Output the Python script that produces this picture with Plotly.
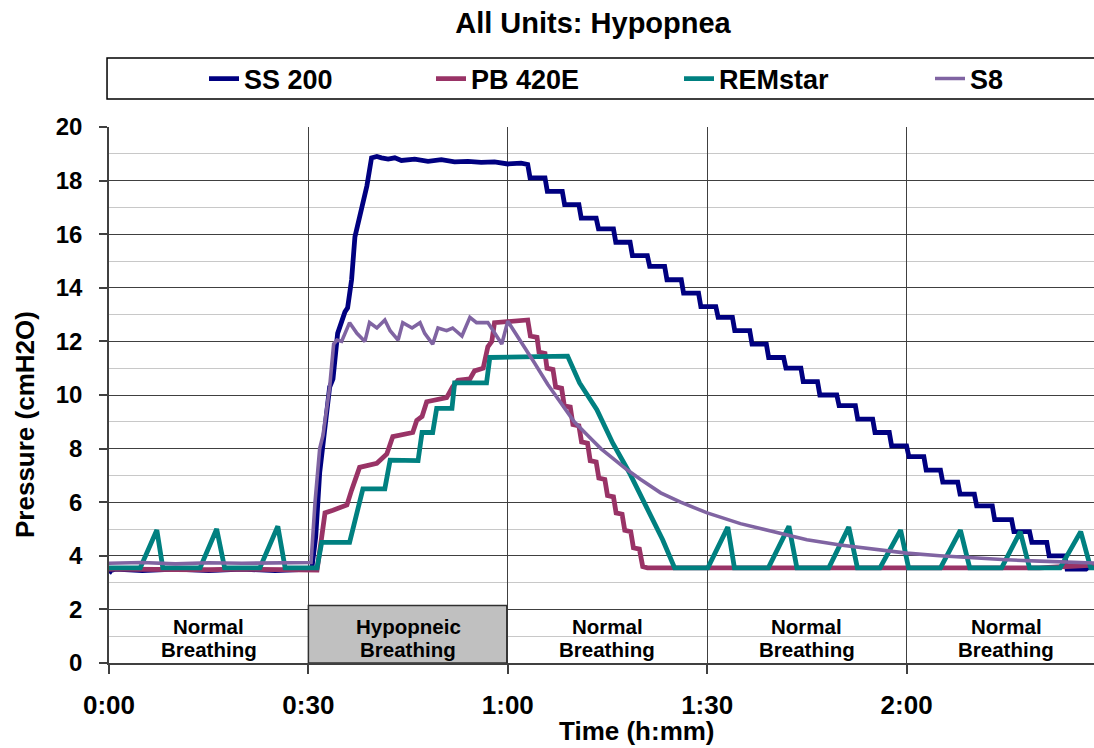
import plotly.graph_objects as go

FONT = "Arial, 'Liberation Sans', sans-serif"

# ---------------- data (time in minutes, pressure in cmH2O) ----------------
# SS 200
ss_t = [0, 0.3, 1, 5, 10, 15, 20, 25, 30.4,
        30.5, 31.1, 31.7, 33.2, 33.7, 34.4, 35.5, 35.9, 36.5, 37.0, 38.0, 38.8, 39.5, 40.3,
        41, 42, 43, 44, 46, 48, 50, 52, 54, 56, 58, 60, 62, 63.0]
ss_p = [3.35, 3.45, 3.5, 3.45, 3.5, 3.45, 3.5, 3.45, 3.5,
        3.5, 4.7, 7.1, 10.3, 10.6, 12.3, 13.1, 13.25, 14.3, 15.9, 16.9, 17.8, 18.85, 18.9,
        18.85, 18.8, 18.85, 18.75, 18.8, 18.72, 18.78, 18.7, 18.72, 18.68, 18.7, 18.62, 18.65, 18.6]
# SS 200 staircase descent: times of each drop and the level after it
ss_drop_t = [63.0, 65.6, 68.2, 70.7, 73.3, 75.9, 78.4, 81.0, 83.6, 86.1, 88.7, 91.3,
             93.8, 96.4, 98.9, 101.5, 104.1, 106.6, 109.5, 112.3, 114.9, 117.4, 120.0,
             122.6, 125.1, 127.7, 130.2, 132.9, 135.8, 138.5, 141.1, 143.8]
ss_drop_p = [18.1, 17.6, 17.1, 16.6, 16.2, 15.7, 15.2, 14.8, 14.3, 13.8, 13.3, 12.9,
             12.4, 11.9, 11.4, 11.0, 10.5, 10.0, 9.6, 9.1, 8.6, 8.1, 7.7,
             7.2, 6.75, 6.3, 5.86, 5.35, 4.9, 4.5, 4.0, 3.5]
ss_tail_t = [147.0, 147.5, 148.2]
ss_tail_p = [3.5, 3.6, 3.6]

# PB 420E
pb_t = [0, 5, 10, 15, 20, 25, 30.5, 31.3, 32.0, 32.5, 33.7, 35.2, 35.8, 36.5, 37.4, 37.7,
        40.3, 41.2, 41.8, 42.7, 45.3, 45.7, 46.3, 47.1, 47.8, 50.8, 51.7, 52.5, 54.3, 55.0,
        56.3, 57.0, 57.6, 58.0, 63.0,
        63.4, 64.4, 64.7, 65.6, 65.9, 66.8, 67.2, 68.1, 68.5, 69.4, 69.8, 70.7, 71.1, 72.0,
        72.4, 73.3, 73.7, 74.6, 75.0, 75.9, 76.3, 77.2, 77.6, 78.5, 78.9, 79.8, 80.3, 81.0,
        90, 100, 110, 120, 130, 140, 144, 148.2]
pb_p = [3.5, 3.48, 3.5, 3.48, 3.5, 3.48, 3.5, 3.47, 4.7, 5.6, 5.7, 5.83, 5.9, 6.45, 7.2, 7.3,
        7.45, 7.7, 7.8, 8.45, 8.6, 8.6, 9.05, 9.2, 9.75, 9.9, 10.3, 10.55, 10.6, 10.9,
        11.0, 11.8, 12.0, 12.7, 12.8,
        12.2, 12.15, 11.6, 11.55, 11.0, 10.95, 10.3, 10.25, 9.6, 9.55, 8.9, 8.85, 8.25, 8.2,
        7.55, 7.5, 6.9, 6.85, 6.25, 6.2, 5.6, 5.55, 4.95, 4.9, 4.3, 4.25, 3.6, 3.55,
        3.55, 3.55, 3.55, 3.52, 3.52, 3.55, 3.6, 3.65]

# REMstar
rem_t = [0, 4.7, 7.2, 8.1, 13.7, 16.2, 17.4, 22.7, 25.4, 26.5, 31.3,
         32.0, 36.2, 37.3, 38.2, 41.5, 42.3, 46.5, 47.1, 48.7, 49.3, 51.6, 52.0, 56.8, 57.3,
         69.0, 70.8, 73.4, 75.8, 78.3, 80.9, 83.3, 85.1,
         90.1, 93.1, 94.1, 99.2, 102.3, 103.5, 108.3, 111.3, 112.6, 116.0, 119.1, 120.3,
         125.1, 128.1, 129.5, 134.3, 137.1, 138.5, 143.1, 146.2, 147.7, 148.2]
rem_p = [3.55, 3.55, 4.96, 3.55, 3.55, 5.0, 3.55, 3.55, 5.1, 3.55, 3.55,
         4.5, 4.5, 5.6, 6.5, 6.5, 7.57, 7.55, 8.6, 8.6, 9.5, 9.5, 10.45, 10.45, 11.4,
         11.45, 10.45, 9.45, 8.2, 7.1, 5.8, 4.6, 3.55,
         3.55, 5.07, 3.55, 3.55, 5.1, 3.55, 3.55, 5.07, 3.55, 3.55, 4.96, 3.55,
         3.55, 4.96, 3.55, 3.55, 4.9, 3.55, 3.55, 4.9, 3.55, 3.55]

# S8
s8_t = [0, 5, 10, 15, 20, 25, 30.4, 31.0, 31.7, 32.2, 33.2, 33.8, 34.3,
        35.0, 36.2, 37.3, 38.5, 39.2, 40.3, 41.5, 42.3, 43.5, 44.2, 45.6, 46.8, 47.5,
        48.7, 49.5, 50.8, 51.7, 53.1, 54.3, 55.3, 57.0, 58.0, 59.1, 60.0,
        62, 64, 66, 68, 70, 72, 74, 76, 78, 80, 83, 86, 90, 95, 100, 105, 110, 115,
        120, 125, 130, 135, 140, 148.2]
s8_p = [3.72, 3.75, 3.7, 3.74, 3.72, 3.75, 3.75, 6.0, 8.0, 8.5, 10.3, 11.9, 12.05,
        12.0, 12.7, 12.3, 12.0, 12.7, 12.5, 12.8, 12.4, 12.05, 12.7, 12.5, 12.7, 12.3,
        11.9, 12.5, 12.4, 12.5, 12.2, 12.9, 12.7, 12.7, 12.3, 11.9, 12.75,
        12.0, 11.2, 10.4, 9.7, 9.0, 8.5, 8.0, 7.6, 7.2, 6.85, 6.35, 6.0, 5.6, 5.2, 4.9, 4.6, 4.4, 4.25,
        4.1, 4.0, 3.92, 3.85, 3.8, 3.73]

# axis ticks
x_tickvals = [0, 30, 60, 90, 120]
x_ticktext = ["0:00", "0:30", "1:00", "1:30", "2:00"]

# breathing phase labels (section centres in minutes)
phase_centres = [15, 45, 75, 105, 135]
phase_line1 = ["Normal", "Hypopneic", "Normal", "Normal", "Normal"]
phase_line2 = ["Breathing", "Breathing", "Breathing", "Breathing", "Breathing"]
hypopnea_start, hypopnea_end, band_top = 30, 59.85, 2.15

# ---------------- build SS 200 staircase path ----------------
ss_x = list(ss_t)
ss_y = list(ss_p)
prev = ss_p[-1]
for t, lvl in zip(ss_drop_t, ss_drop_p):
    ss_x += [t, t + 0.35]
    ss_y += [prev, lvl]
    prev = lvl
ss_x += ss_tail_t
ss_y += ss_tail_p

fig = go.Figure()
fig.add_trace(go.Scatter(x=ss_x, y=ss_y, mode="lines", name="SS 200",
                         line=dict(color="#000080", width=4.8), legendwidth=182))
fig.add_trace(go.Scatter(x=pb_t, y=pb_p, mode="lines", name="PB 420E",
                         line=dict(color="#993366", width=4.8), legendwidth=203))
fig.add_trace(go.Scatter(x=rem_t, y=rem_p, mode="lines", name="REMstar",
                         line=dict(color="#008080", width=4.8), legendwidth=206))
fig.add_trace(go.Scatter(x=s8_t, y=s8_p, mode="lines", name="S8",
                         line=dict(color="#8064A2", width=3.6), legendwidth=40))

ann = []
for c, l1, l2 in zip(phase_centres, phase_line1, phase_line2):
    ann.append(dict(x=c, y=1.38, xref="x", yref="y", text=l1, showarrow=False,
                    xanchor="center", yanchor="middle",
                    font=dict(family=FONT, size=20.5, color="black", weight="bold")))
    ann.append(dict(x=c, y=0.52, xref="x", yref="y", text=l2, showarrow=False,
                    xanchor="center", yanchor="middle",
                    font=dict(family=FONT, size=20.5, color="black", weight="bold")))
ann.append(dict(x=(25 - 109) / 985, y=(663 - 425) / 536, xref="paper", yref="paper",
                xanchor="center", yanchor="middle",
                text="Pressure (cmH2O)", textangle=-90, showarrow=False,
                font=dict(family=FONT, size=26, color="black", weight="bold")))
ann.append(dict(x=(637 - 109) / 985, y=(663 - 731) / 536, xref="paper", yref="paper",
                xanchor="center", yanchor="middle",
                text="Time (h:mm)", showarrow=False,
                font=dict(family=FONT, size=26, color="black", weight="bold")))

shapes = [
    dict(type="rect", xref="x", yref="y", x0=hypopnea_start, x1=hypopnea_end, y0=0, y1=band_top,
         fillcolor="#C0C0C0", line=dict(color="#303030", width=1.5), layer="above"),
    dict(type="rect", xref="paper", yref="paper", x0=-0.002, x1=1.02,
         y0=(663 - 99) / 536, y1=(663 - 58) / 536,
         line=dict(color="black", width=1.5), fillcolor="rgba(0,0,0,0)"),
]

fig.update_layout(
    width=1094, height=748,
    margin=dict(l=109, r=0, t=127, b=85),
    plot_bgcolor="white", paper_bgcolor="white",
    title=dict(text="All Units: Hypopnea", x=593 / 1094, xanchor="center",
               y=1 - 23 / 748, yanchor="middle",
               font=dict(family=FONT, size=29, color="black", weight="bold")),
    showlegend=True,
    legend=dict(orientation="h", x=(204 - 109) / 985, xanchor="left",
                y=(663 - 79) / 536, yanchor="middle",
                font=dict(family=FONT, size=27, color="black", weight="bold"),
                bgcolor="rgba(0,0,0,0)", borderwidth=0, itemclick=False),
    xaxis=dict(range=[0, 148.2], tickvals=x_tickvals, ticktext=x_ticktext,
               showgrid=True, gridcolor="#404040", gridwidth=1, zeroline=False,
               showline=True, linecolor="#404040", linewidth=1.5,
               ticks="outside", ticklen=9, tickcolor="#404040", tickwidth=1.5,
               ticklabelstandoff=9,
               tickfont=dict(family=FONT, size=26, color="black", weight="bold")),
    yaxis=dict(range=[0, 20], tick0=0, dtick=2,
               showgrid=True, gridcolor="#404040", gridwidth=1, zeroline=False,
               showline=True, linecolor="#404040", linewidth=1.5,
               ticks="outside", ticklen=8, tickcolor="#404040", tickwidth=1.5,
               ticklabelstandoff=12,
               minor=dict(dtick=1, showgrid=True, gridcolor="#C8C8C8", gridwidth=1),
               tickfont=dict(family=FONT, size=24, color="black", weight="bold")),
    annotations=ann,
    shapes=shapes,
)

fig.write_html("out.html")
